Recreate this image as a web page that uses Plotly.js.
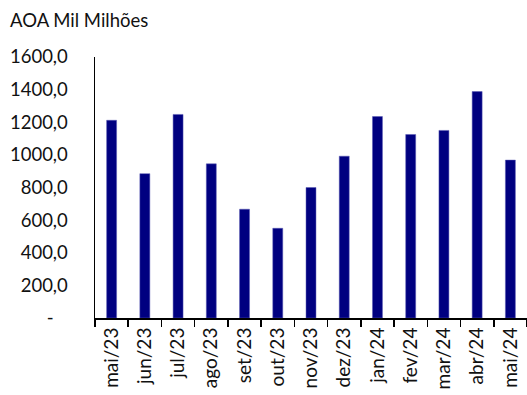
<!DOCTYPE html>
<html>
<head>
<meta charset="utf-8">
<script src="https://cdn.plot.ly/plotly-3.0.1.min.js"></script>
<style>html,body{margin:0;padding:0;background:#fff}#chart{width:527px;height:395px}</style>
</head>
<body>
<div id="chart"></div>
<script>
var categories = ["mai/23","jun/23","jul/23","ago/23","set/23","out/23","nov/23","dez/23","jan/24","fev/24","mar/24","abr/24","mai/24"];
var values = [1212, 885, 1248, 945, 667, 550, 800, 992, 1235, 1125, 1150, 1388, 968];
var yTickVals = [0, 200, 400, 600, 800, 1000, 1200, 1400, 1600];
var yTickText = ["-\u00a0\u00a0\u00a0", "200,0", "400,0", "600,0", "800,0", "1000,0", "1200,0", "1400,0", "1600,0"];

var font = "Lato, 'Open Sans', sans-serif";
Plotly.newPlot("chart", [{
  type: "bar",
  x: categories,
  y: values,
  width: 0.3,
  marker: {color: "#000080", line: {width: 0.5, color: "#5a5ab4"}},
  hoverinfo: "none"
}], {
  width: 527, height: 395,
  margin: {l: 95, r: 0, t: 57, b: 77},
  paper_bgcolor: "#fff", plot_bgcolor: "#fff",
  showlegend: false,
  font: {family: font, size: 18, color: "#111"},
  title: {text: "AOA Mil Milhões", x: 0.019, xanchor: "left", xref: "container", y: 0.948, yanchor: "middle", yref: "container", font: {family: font, size: 18.5, color: "#111"}},
  xaxis: {
    type: "category",
    tickangle: -90,
    tickson: "boundaries",
    ticks: "outside", ticklen: 7, tickwidth: 1.5, tickcolor: "#000",
    showline: true, linecolor: "#000", linewidth: 2,
    showgrid: false, zeroline: false,
    tickfont: {family: font, size: 19, color: "#111"},
    range: [-0.5, 12.5]
  },
  yaxis: {
    range: [0, 1600],
    tickmode: "array", tickvals: yTickVals, ticktext: yTickText,
    showline: true, linecolor: "#000", linewidth: 1.5,
    showgrid: false, zeroline: false,
    ticks: "",
    ticklabelstandoff: 22,
    tickfont: {family: font, size: 18.5, color: "#111"}
  }
}, {displayModeBar: false, staticPlot: true});
</script>
</body>
</html>
